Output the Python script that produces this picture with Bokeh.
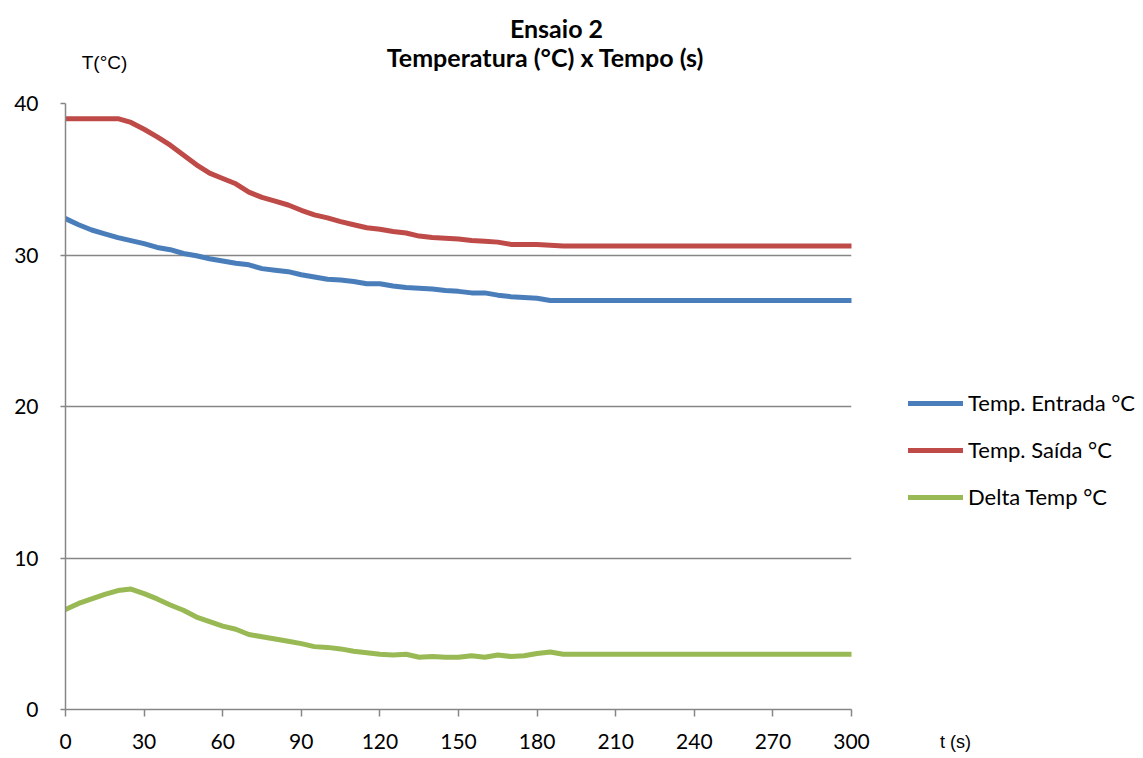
from bokeh.plotting import figure
from bokeh.models import Legend, LegendItem, Label, FixedTicker, Range1d
from bokeh.embed import file_html
from bokeh.resources import INLINE

# ---- data ----
tempo = [0, 5, 10, 15, 20, 25, 30, 35, 40, 45, 50, 55, 60, 65, 70, 75, 80, 85, 90, 95,
         100, 105, 110, 115, 120, 125, 130, 135, 140, 145, 150, 155, 160, 165, 170, 175,
         180, 185, 190, 300]
temp_entrada = [32.4, 32.0, 31.65, 31.4, 31.15, 30.95, 30.75, 30.5, 30.35, 30.1, 29.95,
                29.75, 29.6, 29.45, 29.35, 29.1, 29.0, 28.9, 28.7, 28.55, 28.4, 28.35,
                28.25, 28.1, 28.1, 27.95, 27.85, 27.8, 27.75, 27.65, 27.6, 27.5, 27.5,
                27.35, 27.25, 27.2, 27.15, 27.0, 27.0, 27.0]
temp_saida = [39.0, 39.0, 39.0, 39.0, 39.0, 38.75, 38.3, 37.8, 37.25, 36.6, 35.95, 35.4,
              35.05, 34.7, 34.15, 33.8, 33.55, 33.3, 32.95, 32.65, 32.45, 32.2, 32.0,
              31.8, 31.7, 31.55, 31.45, 31.25, 31.15, 31.1, 31.05, 30.95, 30.9, 30.85,
              30.7, 30.7, 30.7, 30.65, 30.6, 30.6]
delta_temp = [6.6, 7.0, 7.3, 7.6, 7.85, 7.95, 7.65, 7.3, 6.9, 6.55, 6.1, 5.8, 5.5, 5.3,
              4.95, 4.8, 4.65, 4.5, 4.35, 4.15, 4.1, 4.0, 3.85, 3.75, 3.65, 3.6, 3.65,
              3.45, 3.5, 3.45, 3.45, 3.55, 3.45, 3.6, 3.5, 3.55, 3.7, 3.8, 3.65, 3.65]
x_ticks = [0, 30, 60, 90, 120, 150, 180, 210, 240, 270, 300]
y_ticks = [0, 10, 20, 30, 40]
series_names = ["Temp. Entrada °C", "Temp. Saída °C", "Delta Temp °C"]
series_colors = ["#4A7EBB", "#BE4B48", "#98B954"]

FONT = "Lato"
SANS = "Liberation Sans"
GRID = "#868686"

p = figure(frame_width=786, frame_height=606, x_range=Range1d(0, 300), y_range=Range1d(0, 40),
           output_backend="svg", toolbar_location=None,
           min_border_left=65, min_border_right=292, min_border_top=103, min_border_bottom=49)
p.outline_line_color = None
p.background_fill_color = "white"
p.border_fill_color = "white"

p.xaxis.ticker = FixedTicker(ticks=x_ticks)
p.yaxis.ticker = FixedTicker(ticks=y_ticks)
p.xgrid.grid_line_color = None
p.ygrid.grid_line_color = GRID
p.ygrid.grid_line_width = 1.5

for ax in (p.xaxis[0], p.yaxis[0]):
    ax.axis_line_color = GRID
    ax.axis_line_width = 1.5
    ax.major_tick_line_color = GRID
    ax.major_tick_line_width = 1.5
    ax.minor_tick_line_color = None
    ax.major_tick_in = 0
    ax.major_label_text_font = FONT
    ax.major_label_text_font_size = "21px"
    ax.major_label_text_color = "black"
p.xaxis.major_tick_out = 7
p.xaxis.major_label_standoff = 17
p.yaxis.major_tick_out = 5
p.yaxis.major_label_standoff = 22

series = [temp_entrada, temp_saida, delta_temp]
items = []
for name, col, ys in zip(series_names, series_colors, series):
    r = p.line(tempo, ys, line_color=col, line_width=5, line_join="round", line_cap="round")
    items.append(LegendItem(label=name, renderers=[r]))

# texts outside the plot area live in the "above" side panel (not clipped to the frame)
p.add_layout(Label(x=890, y=-638, x_units="screen", y_units="screen", text="t (s)",
                   text_align="center", text_baseline="middle", text_font=SANS,
                   text_font_size="18px", text_color="black"), "above")
p.add_layout(Label(x=39, y=21, x_units="screen", y_units="screen", text="T(°C)",
                   text_align="center", text_baseline="middle", text_font=SANS,
                   text_font_size="19px", text_color="black"), "above")
p.add_layout(Label(x=480, y=6, x_units="screen", y_units="screen",
                   text="Temperatura (°C) x Tempo (s)",
                   text_align="center", text_baseline="middle", text_font=FONT,
                   text_font_style="bold", text_font_size="25px", text_color="black"), "above")
p.add_layout(Label(x=491, y=5, x_units="screen", y_units="screen", text="Ensaio 2",
                   text_align="center", text_baseline="middle", text_font=FONT,
                   text_font_style="bold", text_font_size="25px", text_color="black"), "above")

legend = Legend(items=items, location=(57, 199), border_line_color=None,
                background_fill_alpha=0, padding=0, margin=0, spacing=20,
                glyph_width=55, glyph_height=26, label_height=26, label_standoff=5,
                label_text_font=FONT, label_text_font_size="22px", label_text_color="black")
p.add_layout(legend, "right")

open("out.html", "w").write(file_html(p, INLINE))
